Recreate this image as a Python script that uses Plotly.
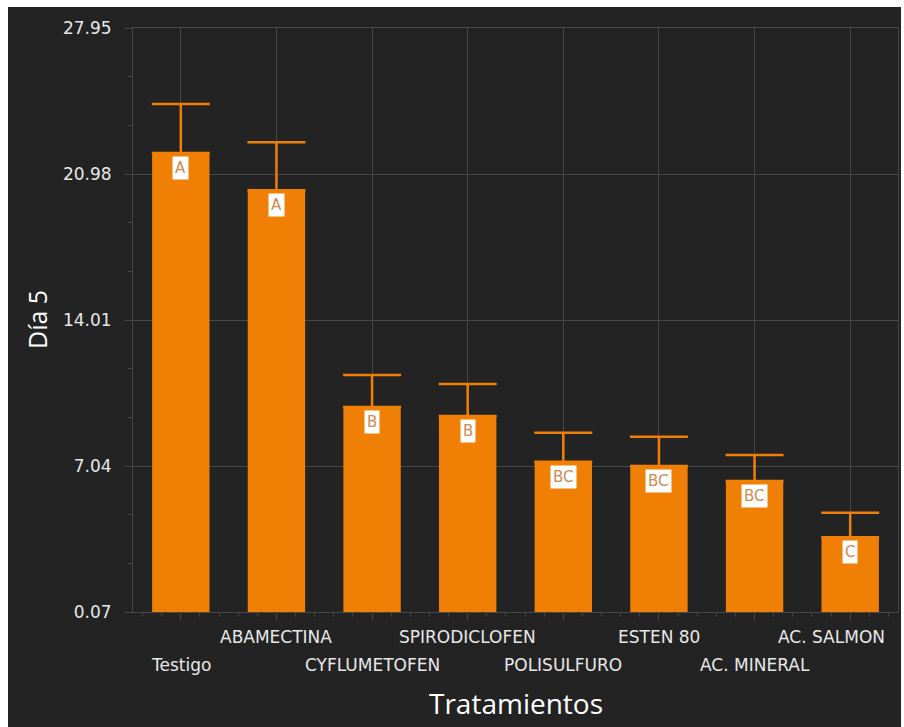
import plotly.graph_objects as go

categories = ["Testigo", "ABAMECTINA", "CYFLUMETOFEN", "SPIRODICLOFEN",
              "POLISULFURO", "ESTEN 80", "AC. MINERAL", "AC. SALMON"]
means = [21.98, 20.21, 9.86, 9.43, 7.24, 7.04, 6.32, 3.64]
errors = [2.34, 2.29, 1.52, 1.52, 1.39, 1.40, 1.24, 1.17]
groups = ["A", "A", "B", "B", "BC", "BC", "BC", "C"]
y_ticks = [0.07, 7.04, 14.01, 20.98, 27.95]
y_ticktext = ["0.07", "7.04", "14.01", "20.98", "27.95"]

ORANGE = "#F07F06"
BG = "#232323"
GRID = "#474747"
TXT = "#E8E8E8"

W, H = 904, 727
L, R, T, B = 133, 6, 28, 115
pw, ph = W - L - R, H - T - B

def px_x(px):
    return (px - L) / pw

def px_y(py):
    return (H - B - py) / ph

xs = list(range(len(categories)))

fig = go.Figure()
fig.add_trace(go.Bar(
    x=xs, y=means, width=0.6, marker=dict(color=ORANGE, line=dict(width=0)),
    error_y=dict(type="data", array=errors, arrayminus=[0] * len(errors),
                 symmetric=False, color=ORANGE, thickness=2.5, width=29),
    hoverinfo="skip",
))

annotations = []
for x, m, g in zip(xs, means, groups):
    annotations.append(dict(
        x=x, y=m, xref="x", yref="y", text=g, showarrow=False,
        yanchor="top", yshift=-3, bgcolor="white", borderpad=2,
        font=dict(family="DejaVu Sans", size=15, color="#CD8A52"),
    ))

# staggered category labels
for i, c in enumerate(categories):
    row_y = 665 if i % 2 == 0 else 637
    xanchor = "center"
    xshift = 0
    if i == len(categories) - 1:
        xanchor = "right"
        xshift = 37
    annotations.append(dict(
        x=i, y=px_y(row_y), xref="x", yref="paper", text=c, showarrow=False,
        xanchor=xanchor, yanchor="middle", xshift=xshift,
        font=dict(family="DejaVu Sans", size=17, color=TXT),
    ))

annotations.append(dict(
    x=px_x(516), y=px_y(703), xref="paper", yref="paper", text="Tratamientos",
    showarrow=False, xanchor="center", yanchor="middle",
    font=dict(family="Open Sans", size=28, color="white"),
))
annotations.append(dict(
    x=px_x(37), y=px_y(320), xref="paper", yref="paper", text="Día 5",
    showarrow=False, xanchor="center", yanchor="middle", textangle=-90,
    font=dict(family="Open Sans", size=25, color="white"),
))

shapes = [
    dict(type="rect", xref="paper", yref="paper", x0=px_x(0), x1=px_x(8),
         y0=px_y(H), y1=px_y(0), fillcolor="white", line=dict(width=0), layer="above"),
    dict(type="rect", xref="paper", yref="paper", x0=px_x(0), x1=px_x(W),
         y0=px_y(7), y1=px_y(0), fillcolor="white", line=dict(width=0), layer="above"),
    dict(type="rect", xref="paper", yref="paper", x0=px_x(901), x1=px_x(W),
         y0=px_y(H), y1=px_y(0), fillcolor="white", line=dict(width=0), layer="above"),
]

fig.update_layout(
    width=W, height=H,
    margin=dict(l=L, r=R, t=T, b=B, pad=0, autoexpand=False),
    paper_bgcolor=BG, plot_bgcolor=BG,
    showlegend=False, bargap=0.4,
    annotations=annotations, shapes=shapes,
    xaxis=dict(
        range=[-0.5, 7.5], tickmode="array", tickvals=xs, showticklabels=False,
        automargin=False,
        showgrid=True, gridcolor=GRID, gridwidth=1,
        ticks="outside", ticklen=7, tickcolor=GRID, tickwidth=1,
        showline=True, linecolor=GRID, linewidth=1, mirror=True,
        zeroline=False,
        minor=dict(tickmode="linear", tick0=0, dtick=0.2, ticks="outside",
                   ticklen=4, tickcolor=GRID, showgrid=False),
    ),
    yaxis=dict(
        range=[0.07, 27.95], tickmode="array", tickvals=y_ticks, ticktext=y_ticktext,
        automargin=False,
        showgrid=True, gridcolor=GRID, gridwidth=1,
        ticks="outside", ticklen=7, tickcolor=GRID, tickwidth=1,
        showline=True, linecolor=GRID, linewidth=1, mirror=True,
        zeroline=False, ticklabelstandoff=10,
        tickfont=dict(family="DejaVu Sans", size=17, color=TXT),
        minor=dict(tickmode="linear", tick0=0.07, dtick=6.97 / 3, ticks="outside",
                   ticklen=4, tickcolor=GRID, showgrid=False),
    ),
)

fig.write_html("out.html")
